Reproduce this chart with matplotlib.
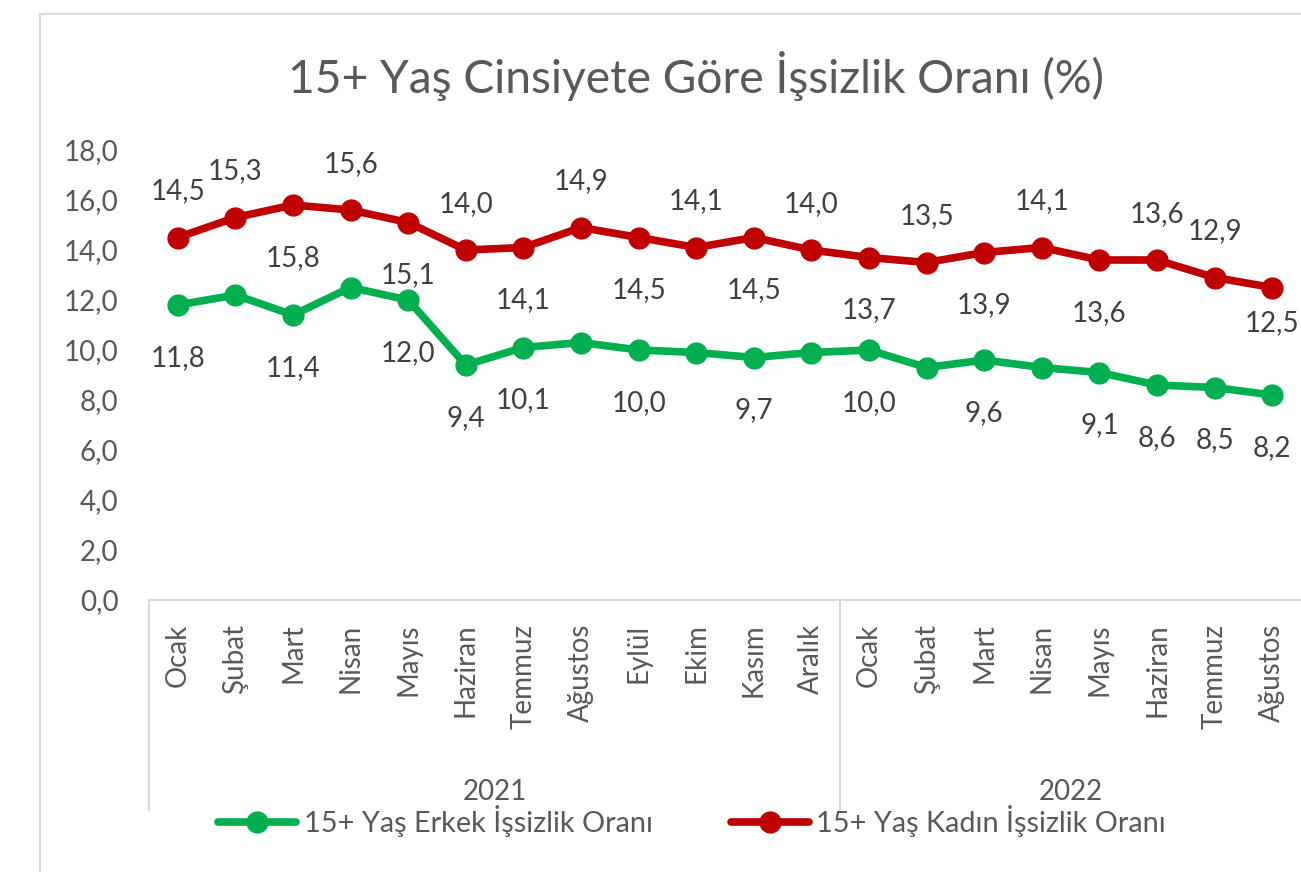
import numpy as np
import matplotlib.pyplot as plt
from matplotlib.lines import Line2D

# Monthly unemployment rates (%), 15+ age group, by gender
months = ['Ocak', 'Şubat', 'Mart', 'Nisan', 'Mayıs', 'Haziran', 'Temmuz', 'Ağustos',
          'Eylül', 'Ekim', 'Kasım', 'Aralık',
          'Ocak', 'Şubat', 'Mart', 'Nisan', 'Mayıs', 'Haziran', 'Temmuz', 'Ağustos']
years = ['2021', '2022']
year_sizes = [12, 8]

erkek = [11.8, 12.2, 11.4, 12.5, 12.0, 9.4, 10.1, 10.3, 10.0, 9.9, 9.7, 9.9,
         10.0, 9.3, 9.6, 9.3, 9.1, 8.6, 8.5, 8.2]
kadin = [14.5, 15.3, 15.8, 15.6, 15.1, 14.0, 14.1, 14.9, 14.5, 14.1, 14.5, 14.0,
         13.7, 13.5, 13.9, 14.1, 13.6, 13.6, 12.9, 12.5]

# which data labels are visible in the original chart
erkek_label_shown = [1, 0, 1, 0, 1, 1, 1, 0, 1, 0, 1, 0, 1, 0, 1, 0, 1, 1, 1, 1]
# label side for the red series: 1 = above, -1 = below
kadin_label_side = [1, 1, -1, 1, -1, 1, -1, 1, -1, 1, -1, 1, -1, 1, -1, 1, -1, 1, 1, -1]

GREEN = '#00B050'
RED = '#C00000'
TICK_COLOR = '#595959'
LABEL_COLOR = '#404040'
GRID_GRAY = '#D9D9D9'
FONT = 'Lato'
FS = 20

plt.rcParams['font.family'] = [FONT, 'DejaVu Sans']

W, H = 1301, 872
fig = plt.figure(figsize=(W / 100, H / 100), dpi=100)
ax = fig.add_axes([149 / W, 1 - 600 / H, (W - 149) / W, 450 / H])

x = np.arange(len(months))
ax.plot(x, erkek, color=GREEN, lw=5.5, marker='o', ms=15, solid_capstyle='round',
        label='15+ Yaş Erkek İşsizlik Oranı', clip_on=False, zorder=3)
ax.plot(x, kadin, color=RED, lw=5.5, marker='o', ms=15, solid_capstyle='round',
        label='15+ Yaş Kadın İşsizlik Oranı', clip_on=False, zorder=3)

# data labels
fmt = lambda v: f'{v:.1f}'.replace('.', ',')
for i, v in enumerate(erkek):
    if erkek_label_shown[i]:
        ax.annotate(fmt(v), (x[i], v), xytext=(0, -53), textcoords='offset pixels',
                    ha='center', va='center', fontsize=FS, color=LABEL_COLOR,
                    annotation_clip=False)
for i, v in enumerate(kadin):
    dy = 46 if kadin_label_side[i] > 0 else -53
    if i == len(kadin) - 1:
        dy = -36
    ax.annotate(fmt(v), (x[i], v), xytext=(0, dy), textcoords='offset pixels',
                ha='center', va='center', fontsize=FS, color=LABEL_COLOR,
                annotation_clip=False)

ax.set_xlim(-0.5, len(months) - 0.5)
ax.set_ylim(0, 18)
ax.set_yticks(np.arange(0, 18.1, 2))
ax.set_yticklabels([fmt(t) for t in np.arange(0, 18.1, 2)])
ax.set_xticks(x)
ax.set_xticklabels(months, rotation=90, va='top', ha='center')
ax.tick_params(axis='both', length=0, labelsize=FS, labelcolor=TICK_COLOR)
ax.tick_params(axis='x', pad=17)
ax.tick_params(axis='y', pad=22)
for s in ['left', 'top', 'right']:
    ax.spines[s].set_visible(False)
ax.spines['bottom'].set_color(GRID_GRAY)
ax.spines['bottom'].set_linewidth(1.5)

# multi-level category axis: year separators and labels
trans = ax.get_xaxis_transform()
start = -0.5
for yr, n in zip(years, year_sizes):
    ax.plot([start, start], [0, -210 / 450], color=GRID_GRAY, lw=1.5,
            transform=trans, clip_on=False)
    ax.text(start + n / 2, -192 / 450, yr, transform=trans, ha='center', va='center',
            fontsize=FS, color=TICK_COLOR)
    start += n

# title
fig.text(288 / W, 1 - 93 / H, '15+ Yaş Cinsiyete Göre İşsizlik Oranı (%)',
         ha='left', va='baseline', fontsize=33.2, color=TICK_COLOR)

# legend
fig.legend(loc='center', bbox_to_anchor=(692 / W, 1 - 821 / H), ncol=2, frameon=False,
           fontsize=20.8, labelcolor=TICK_COLOR, handlelength=2.7, handletextpad=0.25,
           columnspacing=2.7)

# chart area border (only top and left edges are visible)
fig.add_artist(Line2D([40 / W, 40 / W], [0, 1 - 14 / H], color=GRID_GRAY, lw=1.5))
fig.add_artist(Line2D([40 / W, 1], [1 - 14 / H, 1 - 14 / H], color=GRID_GRAY, lw=1.5))

fig.savefig('out.png', dpi=100)
